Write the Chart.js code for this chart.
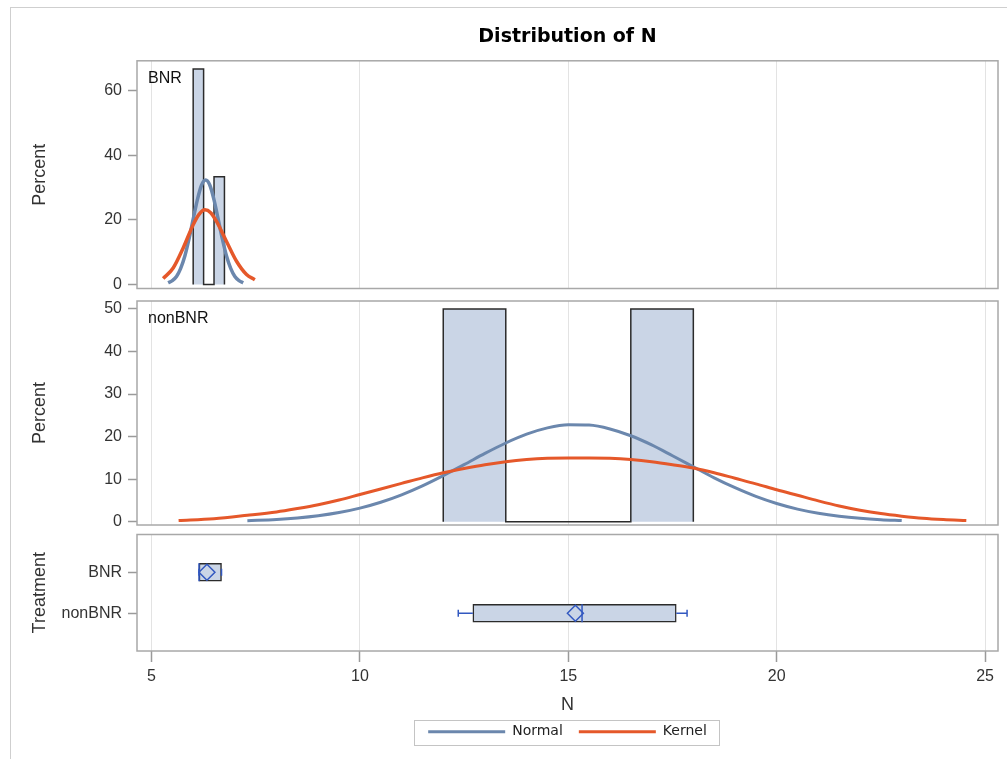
<!DOCTYPE html>
<html><head><meta charset="utf-8">
<script src="https://cdn.jsdelivr.net/npm/chart.js@4.4.0/dist/chart.umd.min.js"></script>
<style>
html,body{margin:0;padding:0;background:#fff;overflow:hidden;width:1007px;height:759px;}
#frame{position:absolute;left:10px;top:7px;width:1010px;height:800px;border-left:1px solid #cfcfcf;border-top:1px solid #cfcfcf;}
canvas{position:absolute;left:0;}
</style></head><body>
<div id="frame"></div>
<canvas id="c1" width="1007" height="296" style="top:0px"></canvas>
<canvas id="c2" width="1007" height="234" style="top:296px"></canvas>
<canvas id="c3" width="1007" height="229" style="top:530px"></canvas>
<script>
// ---------- data ----------
const chartTitle = 'Distribution of N';
const xTitle = 'N';
const xTicks = [5, 10, 15, 20, 25];
const yTicksBNR = [0, 20, 40, 60];
const yTicksNon = [0, 10, 20, 30, 40, 50];
const groups = ['BNR', 'nonBNR'];
const legendNames = ['Normal', 'Kernel'];

// histogram bins (percent)
const bnrBinStarts = [6.0, 6.25, 6.5];
const bnrBinWidth = 0.25;
const bnrPercents = [66.67, 0, 33.33];
const nonBinStarts = [12, 13.5, 15, 16.5];
const nonBinWidth = 1.5;
const nonPercents = [50, 0, 0, 50];

// fitted curves
const bnrNormalX = [5.4,5.5,5.6,5.7,5.8,5.9,6.0,6.1,6.2,6.3,6.4,6.5,6.6,6.7,6.8,6.9,7.0,7.1,7.2];
const bnrNormalY = [0.5,1.2,2.5,5.0,8.8,14.1,20.2,26.2,30.7,32.3,30.7,26.2,20.2,14.1,8.8,5.0,2.5,1.2,0.5];
const bnrKernelX = [5.28,5.52,5.76,6.0,6.14,6.28,6.42,6.56,6.80,7.04,7.28,7.48];
const bnrKernelY = [1.85,5.1,11.3,18.5,21.7,23.1,22.2,19.5,13.3,7.2,3.1,1.5];
const nonNormalX = [7.3,8.0,8.5,9.0,9.5,10.0,10.5,11.0,11.5,12.0,12.5,13.0,13.5,14.0,14.5,15.0,15.5,16.0,16.5,17.0,17.5,18.0,18.5,19.0,19.5,20.0,20.5,21.0,21.5,22.0,22.5,23.0];
const nonNormalY = [0.24,0.52,0.87,1.39,2.14,3.19,4.57,6.32,8.43,10.84,13.4,16.05,18.5,20.57,22.05,22.78,22.7,21.8,20.2,18.05,15.5,12.9,10.3,7.98,5.94,4.27,2.95,1.97,1.27,0.79,0.47,0.27];
const nonKernelX = [5.65,6.5,7.3,8.0,8.5,9.0,9.5,10.0,10.5,11.0,11.5,12.0,12.5,13.0,13.5,14.0,14.5,15.0,15.5,16.0,16.5,17.0,17.5,18.0,18.5,19.0,19.5,20.0,20.5,21.0,21.5,22.0,22.5,23.0,23.5,24.0,24.55];
const nonKernelY = [0.3,0.7,1.5,2.3,3.1,4.0,5.1,6.4,7.7,9.0,10.3,11.5,12.5,13.4,14.1,14.6,14.9,15.0,15.0,14.9,14.6,14.1,13.4,12.6,11.5,10.2,8.9,7.5,6.2,4.9,3.7,2.7,1.9,1.3,0.8,0.5,0.3];

// box plot statistics per group
const whiskerLow = [6.14, 12.36];
const boxQ1 = [6.14, 12.71];
const boxMedian = [6.14, 15.33];
const boxMean = [6.33, 15.17];
const boxQ3 = [6.68, 17.59];
const whiskerHigh = [6.68, 17.85];

// ---------- styles ----------
const FONT = "'Liberation Sans', Arial, sans-serif";
const C_FILL = '#cad5e6', C_EDGE = '#2b2b2b';
const C_NORMAL = '#6b87ad', C_KERNEL = '#e5582a', C_BOX = '#3258c0';
const C_GRID = '#e3e3e3', C_TICK = '#9a9a9a', C_FRAME = '#a8a8a8', C_TEXT = '#333';
Chart.defaults.font.family = FONT;
Chart.defaults.color = C_TEXT;

const toPts = (xs, ys) => xs.map((x, i) => ({x, y: ys[i]}));
function histPts(starts, w, pcts) {
  const p = [];
  starts.forEach((s, i) => { p.push({x:s,y:0},{x:s,y:pcts[i]},{x:s+w,y:pcts[i]},{x:s+w,y:0}); });
  return p;
}
const noPad = s => { s.paddingTop = 0; s.paddingBottom = 0; s.paddingLeft = 0; s.paddingRight = 0; };
function xScale(show) {
  return {
    type:'linear', min:4.652, max:25.31, offset:false,
    afterBuildTicks: s => { s.ticks = xTicks.map(v => ({value:v})); },
    afterFit: noPad,
    grid:{color:C_GRID, lineWidth:1, drawTicks:show, tickLength:11, tickColor:C_TICK, tickWidth:1.5, offset:false},
    border:{display:false},
    ticks:{display:show, padding:5, color:C_TEXT, font:{size:16}},
    title: show ? {display:true, text:xTitle, color:C_TEXT, font:{size:18}, padding:{top:3, bottom:-7.1}} : {display:false}
  };
}
function yScale(min, max, ticks, title, labels, reverse) {
  return {
    type:'linear', min, max, reverse:!!reverse, offset:false,
    afterBuildTicks: s => { s.ticks = ticks.map(v => ({value:v})); },
    afterFit: s => { s.width = 137; noPad(s); },
    grid:{drawOnChartArea:false, tickLength:9, tickColor:C_TICK, tickWidth:1.5, offset:false},
    border:{display:false},
    ticks:{padding:6, color:C_TEXT, font:{size:16}, callback: labels ? (v => labels[v-1]) : (v => String(v))},
    title:{display:true, text:title, color:C_TEXT, font:{size:18}, padding:{top:29, bottom:0}}
  };
}
const framePlugin = {
  id:'frame',
  afterDraw(chart, args, opts) {
    const {ctx, chartArea:a} = chart;
    ctx.save();
    ctx.strokeStyle = C_FRAME; ctx.lineWidth = 1.5;
    ctx.strokeRect(a.left, a.top, a.right - a.left, a.bottom - a.top);
    if (opts.label) {
      ctx.fillStyle = '#111'; ctx.font = '16px ' + FONT;
      ctx.textBaseline = 'middle'; ctx.textAlign = 'left';
      ctx.fillText(opts.label, a.left + 11, a.top + 18);
    }
    if (opts.legendBox && chart.legend && chart.legend.legendHitBoxes.length) {
      const hb = chart.legend.legendHitBoxes, f = hb[0], l = hb[hb.length-1];
      ctx.strokeStyle = '#c4c4c4'; ctx.lineWidth = 1;
      const x0 = Math.round(f.left - 14) + 0.5, x1 = Math.round(l.left + l.width + 12) + 0.5;
      const y0 = Math.round(f.top - 5) + 0.5, y1 = Math.round(f.top + f.height + 6) + 0.5;
      ctx.strokeRect(x0, y0, x1 - x0, y1 - y0);
    }
    ctx.restore();
  }
};
const curve = (pts, color, order, w) => ({type:'line', data:pts, borderColor:color, borderWidth:w || 3, pointRadius:0, cubicInterpolationMode:'monotone', fill:false, order});
const hist = (pts) => ({type:'line', data:pts, borderColor:C_EDGE, borderWidth:1.5, backgroundColor:C_FILL, pointRadius:0, tension:0, fill:'origin', order:3});
const common = {responsive:false, animation:false, events:[]};

// ---------- panel 1 : BNR ----------
new Chart(document.getElementById('c1'), {
  type:'line',
  data:{datasets:[
    curve(toPts(bnrKernelX, bnrKernelY), C_KERNEL, 1, 3.5),
    curve(toPts(bnrNormalX, bnrNormalY), C_NORMAL, 2, 3.5),
    hist(histPts(bnrBinStarts, bnrBinWidth, bnrPercents))
  ]},
  options:{...common,
    layout:{autoPadding:false, padding:{left:0, right:9, top:0, bottom:7.5}},
    scales:{x:xScale(false), y:yScale(-1.24, 69.2, yTicksBNR, 'Percent')},
    plugins:{legend:{display:false}, tooltip:{enabled:false},
      title:{display:true, text:chartTitle, fullSize:false, color:'#000', font:{family:'DejaVu Sans', size:19, weight:'bold'}, padding:{top:26, bottom:12}},
      frame:{label:groups[0]}}
  },
  plugins:[framePlugin]
});

// ---------- panel 2 : nonBNR ----------
new Chart(document.getElementById('c2'), {
  type:'line',
  data:{datasets:[
    curve(toPts(nonKernelX, nonKernelY), C_KERNEL, 1),
    curve(toPts(nonNormalX, nonNormalY), C_NORMAL, 2),
    hist(histPts(nonBinStarts, nonBinWidth, nonPercents))
  ]},
  options:{...common,
    layout:{autoPadding:false, padding:{left:0, right:9, top:5, bottom:5}},
    scales:{x:xScale(false), y:yScale(-0.78, 51.88, yTicksNon, 'Percent')},
    plugins:{legend:{display:false}, tooltip:{enabled:false}, frame:{label:groups[1]}}
  },
  plugins:[framePlugin]
});

// ---------- panel 3 : box plots ----------
const capH = 0.085, halfBox = 0.22;
const whiskerPts = [], medianPts = [];
groups.forEach((g, i) => {
  const y = i + 1;
  whiskerPts.push({x:whiskerLow[i],y},{x:boxQ1[i],y},{x:null,y:null},
                  {x:boxQ3[i],y},{x:whiskerHigh[i],y},{x:null,y:null},
                  {x:whiskerLow[i],y:y-capH},{x:whiskerLow[i],y:y+capH},{x:null,y:null},
                  {x:whiskerHigh[i],y:y-capH},{x:whiskerHigh[i],y:y+capH},{x:null,y:null});
  medianPts.push({x:boxMedian[i],y:y-halfBox},{x:boxMedian[i],y:y+halfBox},{x:null,y:null});
});
new Chart(document.getElementById('c3'), {
  type:'line',
  data:{datasets:[
    {type:'line', label:'mean', data:groups.map((g,i)=>({x:boxMean[i], y:i+1})), showLine:false,
     pointStyle:'rectRot', pointRadius:8, pointBorderColor:C_BOX, pointBackgroundColor:'rgba(0,0,0,0)', pointBorderWidth:1.5, order:1},
    {type:'line', label:'median', data:medianPts, borderColor:C_BOX, borderWidth:1.5, pointRadius:0, spanGaps:false, order:2},
    {type:'line', label:'whiskers', data:whiskerPts, borderColor:C_BOX, borderWidth:1.5, pointRadius:0, spanGaps:false, order:3},
    {type:'bar', label:'box', indexAxis:'y', data:groups.map((g,i)=>({x:[boxQ1[i], boxQ3[i]], y:i+1})),
     backgroundColor:C_FILL, borderColor:C_EDGE, borderWidth:1.5, borderSkipped:false, barThickness:18, grouped:false, order:4}
  ]},
  options:{...common,
    layout:{autoPadding:false, padding:{left:0, right:9, top:4.5, bottom:10.3}},
    scales:{x:xScale(true), y:yScale(0.078, 2.92, [1,2], 'Treatment', groups, true)},
    plugins:{tooltip:{enabled:false}, frame:{legendBox:true},
      legend:{display:true, position:'bottom', fullSize:false,
        labels:{boxWidth:77, boxHeight:3, padding:16, color:'#222', font:{family:'DejaVu Sans', size:14},
          generateLabels: () => legendNames.map((n, i) => ({text:n, fillStyle:[C_NORMAL, C_KERNEL][i], strokeStyle:[C_NORMAL, C_KERNEL][i], lineWidth:0, hidden:false, fontColor:'#222', datasetIndex:i}))}}}
  },
  plugins:[framePlugin]
});
</script>
</body></html>
